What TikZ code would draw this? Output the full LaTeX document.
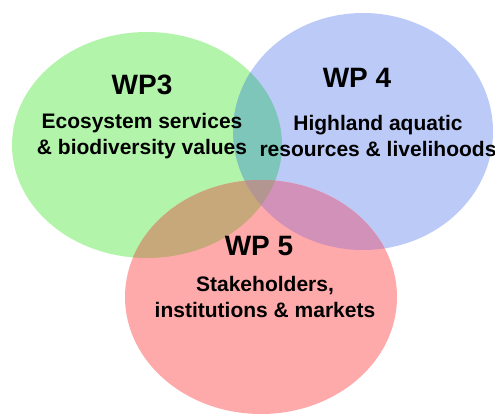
\documentclass[tikz,border=0pt]{standalone}
\usepackage{fontspec}
\setmainfont{Liberation Sans}
\usepackage{pgf,tikz}
\usetikzlibrary{shapes, positioning}
\definecolor{wpgreen}{RGB}{178,245,170}
\definecolor{wpblue}{RGB}{188,202,248}
\definecolor{wpred}{RGB}{255,170,170}
\definecolor{wpgb}{RGB}{125,198,185}
\definecolor{wpgr}{RGB}{198,168,122}
\definecolor{wpbr}{RGB}{210,145,185}
\definecolor{wpall}{RGB}{180,150,145}
\tikzstyle{wptitle} = [font=\fontsize{28}{32}\selectfont\bfseries, inner sep=0pt]
\tikzstyle{wptext} = [font=\fontsize{21}{26}\selectfont\bfseries, align=center, inner sep=0pt]
\newcommand{\greenset}{(147,145) ellipse [x radius=135, y radius=113]}
\newcommand{\blueset}{(363,131.5) ellipse [x radius=130, y radius=118.5]}
\newcommand{\redset}{(261,297) ellipse [x radius=136, y radius=117]}

\begin{document}
\begin{tikzpicture}[x=1pt, y=-1pt]
	\useasboundingbox (0,0) rectangle (495,414);
	% the three work packages
	\fill[wpgreen] \greenset;
	\fill[wpblue] \blueset;
	\fill[wpred] \redset;
	% overlaps
	\begin{scope}
		\clip \greenset;
		\fill[wpgb] \blueset;
		\fill[wpgr] \redset;
	\end{scope}
	\begin{scope}
		\clip \blueset;
		\fill[wpbr] \redset;
	\end{scope}
	\begin{scope}
		\clip \greenset;
		\clip \blueset;
		\fill[wpall] \redset;
	\end{scope}
	% labels
	\node[wptitle, anchor=base] (wp3) at (142,95) {WP3};
	\node[wptext] (wp3text) at (142,136) {Ecosystem services\\ \& biodiversity values};
	\node[wptitle, anchor=base] (wp4) at (357,88) {WP 4};
	\node[wptext] (wp4text) at (378,136) {Highland aquatic\\ resources \& livelihoods};
	\node[wptitle, anchor=base] (wp5) at (259,255) {WP 5};
	\node[wptext] (wp5text) at (265,297) {Stakeholders,\\ institutions \& markets};
\end{tikzpicture}
\end{document}
